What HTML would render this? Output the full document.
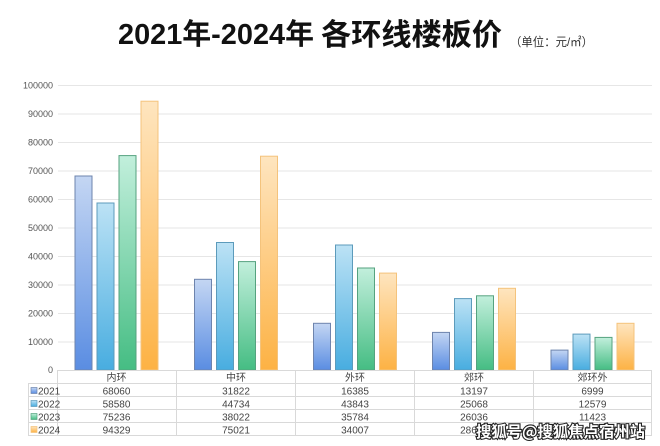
<!DOCTYPE html>
<html>
<head>
<meta charset="utf-8">
<style>
html,body{margin:0;padding:0;background:#fff;}
body{width:660px;height:446px;overflow:hidden;}
svg{display:block;}
</style>
</head>
<body>
<svg width="660" height="446" viewBox="0 0 660 446" xmlns="http://www.w3.org/2000/svg">
<defs>
<linearGradient id="g1" x1="0" y1="0" x2="0" y2="1"><stop offset="0" stop-color="#c4d6f3"/><stop offset="1" stop-color="#5a8de2"/></linearGradient>
<linearGradient id="g2" x1="0" y1="0" x2="0" y2="1"><stop offset="0" stop-color="#bce2f5"/><stop offset="1" stop-color="#48ade0"/></linearGradient>
<linearGradient id="g3" x1="0" y1="0" x2="0" y2="1"><stop offset="0" stop-color="#c2efdc"/><stop offset="1" stop-color="#45bd83"/></linearGradient>
<linearGradient id="g4" x1="0" y1="0" x2="0" y2="1"><stop offset="0" stop-color="#fee5bf"/><stop offset="1" stop-color="#fdb244"/></linearGradient>
</defs>

<!-- Title -->
<text x="118" y="44" font-family="Liberation Sans, 'Noto Sans CJK SC', sans-serif" font-weight="bold" font-size="29" fill="#111" textLength="196" lengthAdjust="spacingAndGlyphs">2021年-2024年</text>
<text x="321" y="45" font-family="'Noto Sans CJK SC', sans-serif" font-weight="bold" font-size="30" fill="#111" textLength="181" lengthAdjust="spacingAndGlyphs">各环线楼板价</text>
<text x="510" y="46" font-family="Liberation Sans, 'Noto Sans CJK SC', sans-serif" font-size="12" fill="#333" textLength="83" lengthAdjust="spacingAndGlyphs">（单位：元/㎡）</text>

<!-- Gridlines -->
<g stroke="#e6e6e6" stroke-width="1">
<line x1="58" y1="85.5" x2="652" y2="85.5"/>
<line x1="58" y1="114" x2="652" y2="114"/>
<line x1="58" y1="142.5" x2="652" y2="142.5"/>
<line x1="58" y1="171" x2="652" y2="171"/>
<line x1="58" y1="199.5" x2="652" y2="199.5"/>
<line x1="58" y1="228" x2="652" y2="228"/>
<line x1="58" y1="256.5" x2="652" y2="256.5"/>
<line x1="58" y1="285" x2="652" y2="285"/>
<line x1="58" y1="313.5" x2="652" y2="313.5"/>
<line x1="58" y1="342" x2="652" y2="342"/>
</g>

<!-- Y labels -->
<g font-family="Liberation Sans, sans-serif" font-size="9" fill="#555" text-anchor="end">
<text x="53" y="88.5">100000</text>
<text x="53" y="117">90000</text>
<text x="53" y="145.5">80000</text>
<text x="53" y="174">70000</text>
<text x="53" y="202.5">60000</text>
<text x="53" y="231">50000</text>
<text x="53" y="259.5">40000</text>
<text x="53" y="288">30000</text>
<text x="53" y="316.5">20000</text>
<text x="53" y="345">10000</text>
<text x="53" y="373">0</text>
</g>

<!-- Bars -->
<g stroke-width="1">
<rect x="75" y="176" width="17" height="194" fill="url(#g1)" stroke="#6e84ad"/>
<rect x="97" y="203" width="17" height="167" fill="url(#g2)" stroke="#5c9bbb"/>
<rect x="119" y="155.6" width="17" height="214.4" fill="url(#g3)" stroke="#55a27f"/>
<rect x="141" y="101.2" width="17" height="268.8" fill="url(#g4)" stroke="#f4c37c"/>

<rect x="194.5" y="279.3" width="17" height="90.7" fill="url(#g1)" stroke="#6e84ad"/>
<rect x="216.5" y="242.5" width="17" height="127.5" fill="url(#g2)" stroke="#5c9bbb"/>
<rect x="238.5" y="261.6" width="17" height="108.4" fill="url(#g3)" stroke="#55a27f"/>
<rect x="260.5" y="156.2" width="17" height="213.8" fill="url(#g4)" stroke="#f4c37c"/>

<rect x="313.5" y="323.3" width="17" height="46.7" fill="url(#g1)" stroke="#6e84ad"/>
<rect x="335.5" y="245" width="17" height="125" fill="url(#g2)" stroke="#5c9bbb"/>
<rect x="357.5" y="268" width="17" height="102" fill="url(#g3)" stroke="#55a27f"/>
<rect x="379.5" y="273.1" width="17" height="96.9" fill="url(#g4)" stroke="#f4c37c"/>

<rect x="432.5" y="332.4" width="17" height="37.6" fill="url(#g1)" stroke="#6e84ad"/>
<rect x="454.5" y="298.6" width="17" height="71.4" fill="url(#g2)" stroke="#5c9bbb"/>
<rect x="476.5" y="295.8" width="17" height="74.2" fill="url(#g3)" stroke="#55a27f"/>
<rect x="498.5" y="288.3" width="17" height="81.7" fill="url(#g4)" stroke="#f4c37c"/>

<rect x="551" y="350.1" width="17" height="19.9" fill="url(#g1)" stroke="#6e84ad"/>
<rect x="573" y="334.1" width="17" height="35.9" fill="url(#g2)" stroke="#5c9bbb"/>
<rect x="595" y="337.4" width="17" height="32.6" fill="url(#g3)" stroke="#55a27f"/>
<rect x="617" y="323.3" width="17" height="46.7" fill="url(#g4)" stroke="#f4c37c"/>
</g>

<!-- Table -->
<g stroke="#d9d9d9" stroke-width="1" fill="none">
<line x1="57" y1="370.5" x2="652" y2="370.5"/>
<line x1="28" y1="383.5" x2="652" y2="383.5"/>
<line x1="28" y1="396.5" x2="652" y2="396.5"/>
<line x1="28" y1="409.5" x2="652" y2="409.5"/>
<line x1="28" y1="422.5" x2="652" y2="422.5"/>
<line x1="28" y1="435.5" x2="652" y2="435.5"/>
<line x1="28.5" y1="383" x2="28.5" y2="436"/>
<line x1="57.5" y1="370" x2="57.5" y2="436"/>
<line x1="176.5" y1="370" x2="176.5" y2="436"/>
<line x1="295.5" y1="370" x2="295.5" y2="436"/>
<line x1="414.5" y1="370" x2="414.5" y2="436"/>
<line x1="533.5" y1="370" x2="533.5" y2="436"/>
<line x1="651.5" y1="370" x2="651.5" y2="436"/>
</g>

<rect x="31" y="387.5" width="6" height="6" fill="url(#g1)" stroke="#6e84ad" stroke-width="0.7"/>
<rect x="31" y="400.5" width="6" height="6" fill="url(#g2)" stroke="#5c9bbb" stroke-width="0.7"/>
<rect x="31" y="413.5" width="6" height="6" fill="url(#g3)" stroke="#55a27f" stroke-width="0.7"/>
<rect x="31" y="426.5" width="6" height="6" fill="url(#g4)" stroke="#f4c37c" stroke-width="0.7"/>

<g font-family="Liberation Sans, 'Noto Sans CJK SC', sans-serif" font-size="10" fill="#444">
<text x="38" y="394.5">2021</text>
<text x="38" y="407.5">2022</text>
<text x="38" y="420.5">2023</text>
<text x="38" y="433.5">2024</text>
</g>

<g font-family="Liberation Sans, 'Noto Sans CJK SC', sans-serif" font-size="10" fill="#444" text-anchor="middle">
<text x="116.5" y="381">内环</text>
<text x="236" y="381">中环</text>
<text x="355" y="381">外环</text>
<text x="474" y="381">郊环</text>
<text x="592.5" y="381">郊环外</text>

<text x="116.5" y="394.5">68060</text>
<text x="236" y="394.5">31822</text>
<text x="355" y="394.5">16385</text>
<text x="474" y="394.5">13197</text>
<text x="592.5" y="394.5">6999</text>

<text x="116.5" y="407.5">58580</text>
<text x="236" y="407.5">44734</text>
<text x="355" y="407.5">43843</text>
<text x="474" y="407.5">25068</text>
<text x="592.5" y="407.5">12579</text>

<text x="116.5" y="420.5">75236</text>
<text x="236" y="420.5">38022</text>
<text x="355" y="420.5">35784</text>
<text x="474" y="420.5">26036</text>
<text x="592.5" y="420.5">11423</text>

<text x="116.5" y="433.5">94329</text>
<text x="236" y="433.5">75021</text>
<text x="355" y="433.5">34007</text>
<text x="474" y="433.5">28660</text>
<text x="592.5" y="433.5">16380</text>
</g>

<!-- Watermark -->
<text x="476" y="437" font-family="'Noto Sans CJK SC', 'WenQuanYi Zen Hei', sans-serif" font-weight="bold" font-size="15.5" fill="#fff" stroke="#222" stroke-width="2.2" paint-order="stroke" textLength="169" lengthAdjust="spacingAndGlyphs">搜狐号@搜狐焦点宿州站</text>
</svg>
</body>
</html>
